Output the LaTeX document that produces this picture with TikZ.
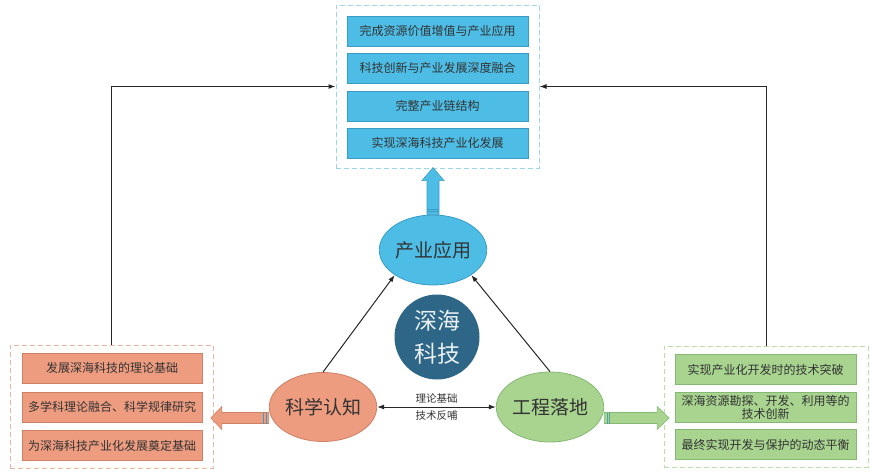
\documentclass[tikz,border=0pt]{standalone}
\usepackage{fontspec}
\setmainfont{Noto Sans CJK SC}
\usetikzlibrary{arrows.meta,shapes.geometric}

\definecolor{bluefill}{HTML}{4DBDE6}
\definecolor{blueline}{HTML}{3A9CC4}
\definecolor{bluedash}{HTML}{9AD6EC}
\definecolor{orangefill}{HTML}{EE9C80}
\definecolor{orangeline}{HTML}{CF8166}
\definecolor{orangedash}{HTML}{F2B4A2}
\definecolor{greenfill}{HTML}{A8D490}
\definecolor{greenline}{HTML}{86B875}
\definecolor{greendash}{HTML}{BCDDAA}
\definecolor{deepsea}{HTML}{2D6686}
\definecolor{ink}{HTML}{333333}

\tikzset{
  item/.style={draw=#1line, fill=#1fill, minimum width=181pt, minimum height=30pt,
    inner sep=1pt, align=center, text=ink, font=\fontsize{12}{12.5}\selectfont},
  frame/.style={draw=#1dash, dash pattern=on 5pt off 3pt, line width=1pt, inner sep=0pt},
  topic/.style={ellipse, draw=#1line, fill=#1fill, line width=0.8pt, inner sep=0pt,
    text=ink, font=\fontsize{19}{21}\selectfont},
  fatarrow/.style={draw=#1line, fill=#1fill, line width=0.6pt, line join=miter},
  link/.style={-{Latex[length=7pt,width=5pt]}, line width=1pt, black!85}
}

\begin{document}
\begin{tikzpicture}[x=1pt,y=-1pt]
    \useasboundingbox (0,0) rectangle (870,474);

    % top: industry goals
    \node[frame=blue, minimum width=203pt, minimum height=163pt] (tframe) at (437.5,86.5) {};
    \node[item=blue] (t1) at (437.5,31) {完成资源价值增值与产业应用};
    \node[item=blue] (t2) at (437.5,68) {科技创新与产业发展深度融合};
    \node[item=blue] (t3) at (437.5,106) {完整产业链结构};
    \node[item=blue] (t4) at (437.5,143) {实现深海科技产业化发展};

    % left: science
    \node[frame=orange, minimum width=203pt, minimum height=123pt] (lframe) at (111.5,406.5) {};
    \node[item=orange, minimum width=180pt] (l1) at (112,368) {发展深海科技的理论基础};
    \node[item=orange, minimum width=180pt] (l2) at (112,407) {多学科理论融合、科学规律研究};
    \node[item=orange, minimum width=180pt] (l3) at (112,445.5) {为深海科技产业化发展奠定基础};

    % right: engineering
    \node[frame=green, minimum width=204pt, minimum height=121pt] (rframe) at (766,406.5) {};
    \node[item=green] (r1) at (765.5,369.5) {实现产业化开发时的技术突破};
    \node[item=green] (r2) at (765.5,407.5) {深海资源勘探、开发、利用等的\\技术创新};
    \node[item=green] (r3) at (765.5,444.5) {最终实现开发与保护的动态平衡};

    % triangle
    \node[topic=blue, minimum width=97pt, minimum height=70pt] (yy) at (433,250) {产业应用};
    \node[topic=orange, minimum width=107pt, minimum height=69pt] (kx) at (323,407) {科学认知};
    \node[topic=green, minimum width=100pt, minimum height=70pt] (gc) at (550,407) {工程落地};
    \node[circle, fill=deepsea, minimum size=85pt, inner sep=0pt, align=center,
      text=white!90!deepsea, font=\fontsize{23}{33}\selectfont] (core) at (437,337) {深海\\科技};

    \draw[link] (kx.north) -- (yy.south west);
    \draw[link] (gc.north) -- (yy.south east);
    \draw[link, {Latex[length=7pt,width=5pt]}-{Latex[length=7pt,width=5pt]}] (kx.east) -- (gc.west)
      node[midway, above, inner sep=3pt, text=ink, font=\fontsize{10.5}{12}\selectfont] (lab1) {理论基础}
      node[midway, below, inner sep=3pt, text=ink, font=\fontsize{10.5}{12}\selectfont] (lab2) {技术反哺};

    % feedback lines
    \draw[link] (lframe.north) |- (tframe.west);
    \draw[link] (rframe.north) |- (tframe.east);

    % fat arrows
    \draw[fatarrow=blue] ([xshift=-6pt]yy.north) -- ++(0,-34) -- ++(-5,0) -- ++(11,-13)
      -- ++(11,13) -- ++(-5,0) -- ++(0,34) -- cycle;
    \draw[blueline, line width=0.5pt] ([xshift=-6pt,yshift=3pt]yy.north) -- ++(12,0)
      ([xshift=-6pt,yshift=5.5pt]yy.north) -- ++(12,0);
    \draw[fatarrow=orange] ([yshift=-5.5pt]kx.west) -- ++(-47,0) -- ++(0,-6) -- ++(-11,11.5)
      -- ++(11,11.5) -- ++(0,-6) -- ++(47,0) -- cycle;
    \draw[blueline, line width=0.6pt] ([xshift=-3pt,yshift=-5.5pt]kx.west) -- ++(0,11)
      ([xshift=-5.5pt,yshift=-5.5pt]kx.west) -- ++(0,11);
    \draw[fatarrow=green] ([yshift=-5.5pt]gc.east) -- ++(53,0) -- ++(0,-6) -- ++(12,11.5)
      -- ++(-12,11.5) -- ++(0,-6) -- ++(-53,0) -- cycle;
    \draw[blueline!70!greenline, line width=0.6pt] ([xshift=3pt,yshift=-5.5pt]gc.east) -- ++(0,11)
      ([xshift=5.5pt,yshift=-5.5pt]gc.east) -- ++(0,11);

  \end{tikzpicture}
\end{document}
